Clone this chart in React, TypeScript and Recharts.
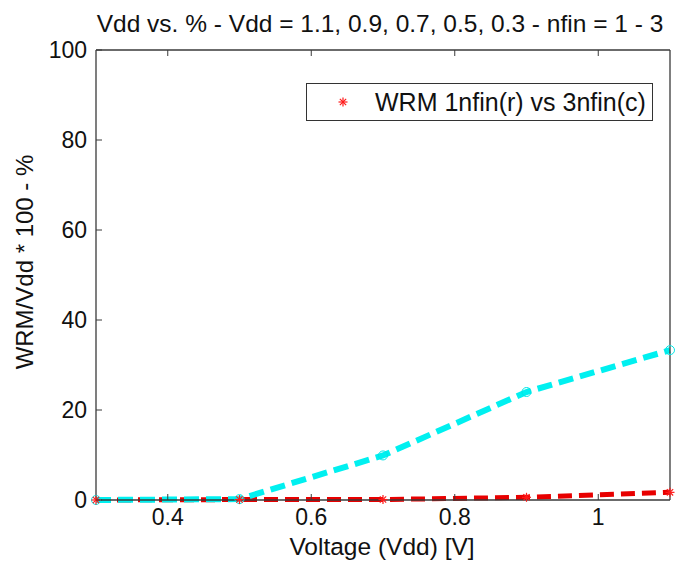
import { ComposedChart, Line, XAxis, YAxis, Legend } from 'recharts';

const voltage = [0.3, 0.5, 0.7, 0.9, 1.1];
const wrm1nfin = [0, 0.1, 0.1, 0.6, 1.7];
const wrm3nfin = [0, 0.2, 9.9, 24.0, 33.3];
const xTicks = [0.4, 0.6, 0.8, 1];
const yTicks = [0, 20, 40, 60, 80, 100];

const data = voltage.map((v, i) => ({ v, red: wrm1nfin[i], cyan: wrm3nfin[i] }));

const FONT = '"Liberation Sans", Arial, Helvetica, sans-serif';
const AXIS = '#3a3a3a';
const TICK = 6;

function Asterisk({ cx, cy }: any) {
  if (cx == null || cy == null) return null;
  const r = 4.5;
  const d = r * 0.7;
  return (
    <g stroke="#ff1a1a" strokeWidth={1.2}>
      <line x1={cx - r} y1={cy} x2={cx + r} y2={cy} />
      <line x1={cx} y1={cy - r} x2={cx} y2={cy + r} />
      <line x1={cx - d} y1={cy - d} x2={cx + d} y2={cy + d} />
      <line x1={cx - d} y1={cy + d} x2={cx + d} y2={cy - d} />
    </g>
  );
}

function Circle({ cx, cy }: any) {
  if (cx == null || cy == null) return null;
  return <circle cx={cx} cy={cy} r={4.5} fill="none" stroke="#00e5e5" strokeWidth={1} />;
}

const fmt = (t: number) => String(t);

function BottomTick({ x, y, payload }: any) {
  return (
    <g>
      <line x1={x} y1={y} x2={x} y2={y - TICK} stroke={AXIS} strokeWidth={1} />
      <text x={x} y={y + 9} dy="0.71em" textAnchor="middle" fontSize={23} fontFamily={FONT} fill="#111">
        {fmt(payload.value)}
      </text>
    </g>
  );
}

function TopTick({ x, y }: any) {
  return <line x1={x} y1={y} x2={x} y2={y + TICK} stroke={AXIS} strokeWidth={1} />;
}

function LeftTick({ x, y, payload }: any) {
  return (
    <g>
      <line x1={x} y1={y} x2={x + TICK} y2={y} stroke={AXIS} strokeWidth={1} />
      <text x={x - 9} y={y} dy="0.36em" textAnchor="end" fontSize={23} fontFamily={FONT} fill="#111">
        {fmt(payload.value)}
      </text>
    </g>
  );
}

function RightTick({ x, y }: any) {
  return <line x1={x} y1={y} x2={x - TICK} y2={y} stroke={AXIS} strokeWidth={1} />;
}

function LegendBox() {
  return (
    <div
      style={{
        position: 'absolute',
        left: 306,
        top: 83,
        width: 347,
        height: 38,
        border: '1px solid #333',
        background: '#fff',
        fontFamily: FONT,
        fontSize: 25,
        color: '#111',
        boxSizing: 'border-box',
      }}
    >
      <svg width={30} height={30} style={{ position: 'absolute', left: 21, top: 3 }}>
        <Asterisk cx={15} cy={15} />
      </svg>
      <span style={{ position: 'absolute', left: 68, top: 4, whiteSpace: 'nowrap' }}>
        WRM 1nfin(r) vs 3nfin(c)
      </span>
    </div>
  );
}

export default function App() {
  return (
    <div style={{ position: 'absolute', left: 0, top: 0, width: 675, height: 562, background: '#fff' }}>
      <ComposedChart width={675} height={562} data={data} margin={{ top: 40, right: 0, left: 36, bottom: 32 }}>
        <XAxis
          xAxisId="b"
          dataKey="v"
          type="number"
          domain={[0.3, 1.1]}
          ticks={xTicks}
          interval={0}
          height={30}
          tickSize={0}
          tickMargin={0}
          stroke={AXIS}
          strokeWidth={1.3}
          tick={<BottomTick />}
        />
        <XAxis
          xAxisId="t"
          orientation="top"
          dataKey="v"
          type="number"
          domain={[0.3, 1.1]}
          ticks={xTicks}
          interval={0}
          height={10}
          tickSize={0}
          tickMargin={0}
          stroke={AXIS}
          strokeWidth={1.3}
          tick={<TopTick />}
        />
        <YAxis
          yAxisId="l"
          type="number"
          domain={[0, 100]}
          ticks={yTicks}
          interval={0}
          width={60}
          tickSize={0}
          tickMargin={0}
          stroke={AXIS}
          strokeWidth={1.3}
          tick={<LeftTick />}
        />
        <YAxis
          yAxisId="r"
          orientation="right"
          type="number"
          domain={[0, 100]}
          ticks={yTicks}
          interval={0}
          width={5}
          tickSize={0}
          tickMargin={0}
          stroke={AXIS}
          strokeWidth={1.3}
          tick={<RightTick />}
        />
        <Legend content={() => <LegendBox />} wrapperStyle={{ position: 'absolute', left: 0, top: 0, width: 0, height: 0 }} />
        <Line
          xAxisId="b"
          yAxisId="l"
          dataKey="red"
          stroke="#e80000"
          strokeWidth={5}
          strokeDasharray="14 7"
          dot={false}
          isAnimationActive={false}
        />
        <Line
          xAxisId="b"
          yAxisId="l"
          dataKey="cyan"
          stroke="#00f0f0"
          strokeWidth={6}
          strokeDasharray="15 7"
          dot={<Circle />}
          isAnimationActive={false}
        />
        <Line
          xAxisId="b"
          yAxisId="l"
          dataKey="red"
          stroke="none"
          dot={<Asterisk />}
          isAnimationActive={false}
        />
      </ComposedChart>
      <svg width={675} height={562} style={{ position: 'absolute', left: 0, top: 0, pointerEvents: 'none' }}>
        <text x={380} y={32} textAnchor="middle" fontSize={24.5} fontFamily={FONT} fill="#111">
          Vdd vs. % - Vdd = 1.1, 0.9, 0.7, 0.5, 0.3 - nfin = 1 - 3
        </text>
        <text x={382} y={555} textAnchor="middle" fontSize={24.5} fontFamily={FONT} fill="#111">
          Voltage (Vdd) [V]
        </text>
        <text
          x={33}
          y={262}
          transform="rotate(-90 33 262)"
          textAnchor="middle"
          fontSize={24}
          fontFamily={FONT}
          fill="#111"
        >
          WRM/Vdd * 100 - %
        </text>
      </svg>
    </div>
  );
}
